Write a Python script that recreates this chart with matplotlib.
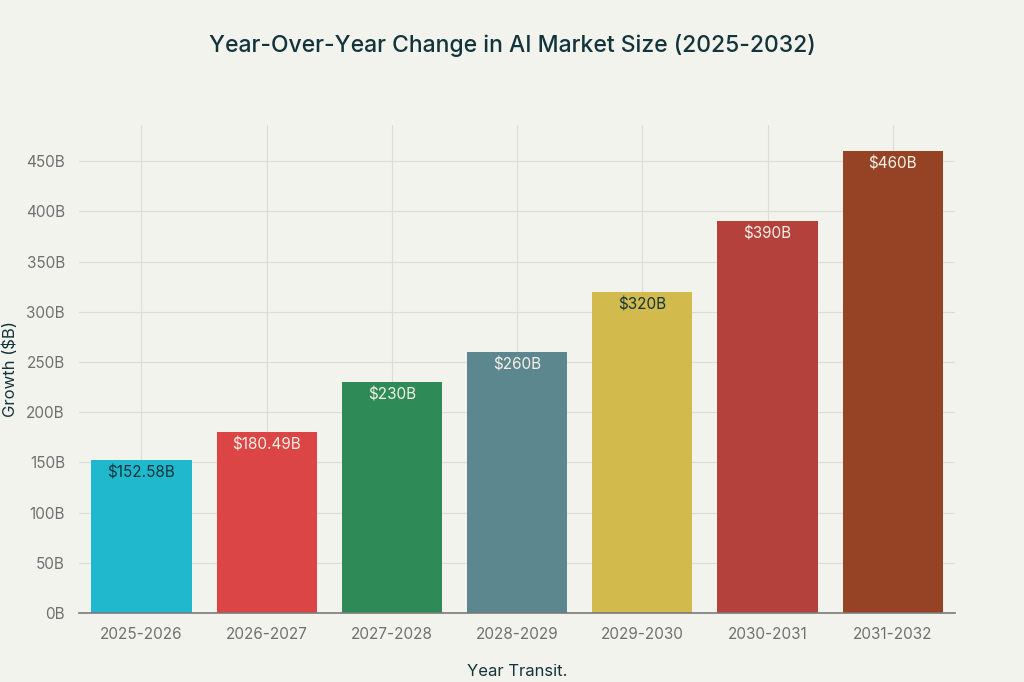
import matplotlib
matplotlib.use("Agg")
import matplotlib.pyplot as plt

# ---- Data ----
periods = ["2025-2026", "2026-2027", "2027-2028", "2028-2029",
           "2029-2030", "2030-2031", "2031-2032"]
growth = [152.58, 180.49, 230, 260, 320, 390, 460]
labels = ["$152.58B", "$180.49B", "$230B", "$260B", "$320B", "$390B", "$460B"]
yticks = [0, 50, 100, 150, 200, 250, 300, 350, 400, 450]

colors = ["#1FB8CD", "#DB4545", "#2E8B57", "#5D878F", "#D2BA4C", "#B4413C", "#964325"]
label_colors = ["#13343B", "#F5F0E6", "#F5F0E6", "#F5F0E6", "#13343B", "#F5F0E6", "#F5F0E6"]

BG = "#F3F3EE"
DARK = "#13343B"

plt.rcParams["font.family"] = ["Inter", "DejaVu Sans"]

fig = plt.figure(figsize=(10.24, 6.82), dpi=100, facecolor=BG)
ax = fig.add_axes([0.077, 0.1012, 0.856, 0.7155], facecolor=BG)

x = list(range(len(periods)))
ax.bar(x, growth, width=0.8, color=colors, zorder=2)

for xi, v, lab, c in zip(x, growth, labels, label_colors):
    ax.annotate(lab, (xi, v), xytext=(0, -4), textcoords="offset points",
                ha="center", va="top", fontsize=11, color=c, zorder=3)

ax.set_xlim(-0.5, len(periods) - 0.5)
ax.set_ylim(0, 486)
ax.set_xticks(x)
ax.set_xticklabels(periods)
ax.set_yticks(yticks)
ax.set_yticklabels([f"{t}B" for t in yticks])

ax.grid(True, color="#DCDCD8", linewidth=0.8, zorder=0)
ax.set_axisbelow(True)
for s in ["top", "right", "left"]:
    ax.spines[s].set_visible(False)
ax.spines["bottom"].set_color("#7A7A7A")
ax.spines["bottom"].set_linewidth(1.2)

ax.tick_params(axis="both", colors="#707070", labelsize=11, length=0)
ax.tick_params(axis="x", pad=10)
ax.tick_params(axis="y", pad=10)

ax.set_xlabel("Year Transit.", fontsize=12, color=DARK, labelpad=8)
ax.xaxis.set_label_coords(0.5, -0.105)
ax.set_ylabel("Growth ($B)", fontsize=12, color=DARK, labelpad=6)

fig.suptitle("Year-Over-Year Change in AI Market Size (2025-2032)",
             fontsize=16.5, fontweight="medium", color=DARK, y=0.95)

fig.savefig("out.png", dpi=100, facecolor=BG)
